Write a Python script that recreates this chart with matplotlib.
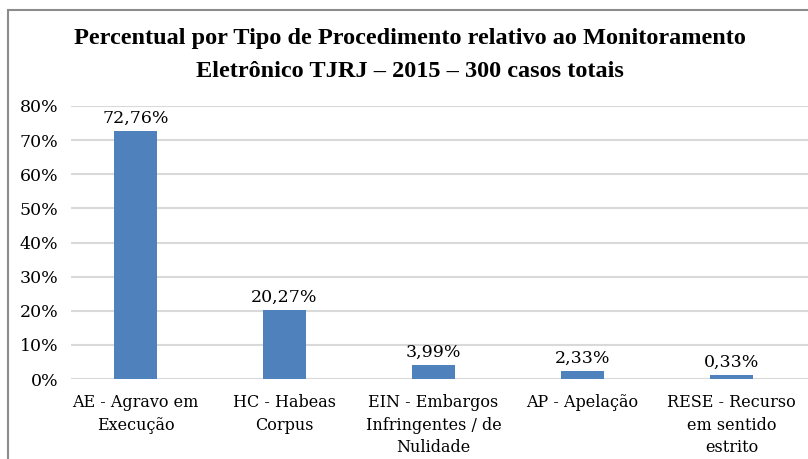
import matplotlib
matplotlib.use("Agg")
import matplotlib.pyplot as plt
from matplotlib.patches import Rectangle

categories = ["AE - Agravo em\nExecução", "HC - Habeas\nCorpus",
              "EIN - Embargos\nInfringentes / de\nNulidade", "AP - Apelação",
              "RESE - Recurso\nem sentido\nestrito"]
bar_heights = [72.76, 20.27, 3.99, 2.33, 1.3]
value_labels = ["72,76%", "20,27%", "3,99%", "2,33%", "0,33%"]
yticks = [0, 10, 20, 30, 40, 50, 60, 70, 80]
title = "Percentual por Tipo de Procedimento relativo ao Monitoramento\nEletrônico TJRJ – 2015 – 300 casos totais"

W, H = 808, 459
fig = plt.figure(figsize=(W / 100, H / 100), dpi=100)
serif = ["DejaVu Serif"]
tserif = ["Liberation Serif", "DejaVu Serif"]
fs = 11.5
fs2 = 12.5

# chart border
fig.patches.append(Rectangle((8 / W, -0.1), 1.2, (H - 10) / H + 0.1, transform=fig.transFigure,
                             fill=False, edgecolor="#8c8c8c", linewidth=1.5))

ax = fig.add_axes([71 / W, (H - 379) / H, 1 - 71 / W, (379 - 106) / H])
x = list(range(len(categories)))
ax.bar(x, bar_heights, width=0.29, color="#4F81BD", zorder=3)
ax.set_xlim(-0.433, 4.513)
ax.set_ylim(0, 80)
ax.set_yticks(yticks)
ax.set_yticklabels([f"{v}%" for v in yticks], fontsize=fs2, family=serif)
ax.yaxis.grid(True, color="#d9d9d9", linewidth=1.5, zorder=0)
ax.set_xticks(x)
ax.set_xticklabels(categories, fontsize=fs, family=serif, linespacing=1.42)
ax.tick_params(axis="both", length=0)
ax.tick_params(axis="y", pad=9)
ax.tick_params(axis="x", pad=11)
for s in ax.spines.values():
    s.set_visible(False)

for xi, h, lab in zip(x, bar_heights, value_labels):
    ax.annotate(lab, (xi, h), xytext=(0, 3), textcoords="offset points",
                ha="center", va="bottom", fontsize=fs2, family=serif)

fig.text(0.5 + 6 / W, 1 - 55 / H, title, ha="center", va="center", fontsize=17.5,
         fontweight="bold", family=tserif, linespacing=1.7)

fig.savefig("out.png", dpi=100)
